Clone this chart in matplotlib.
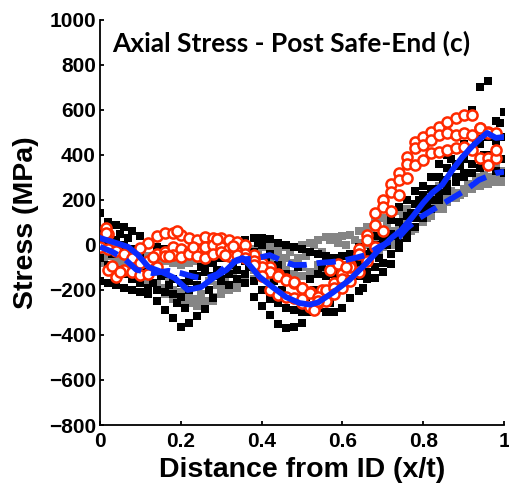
import numpy as np
import matplotlib
matplotlib.use("Agg")
import matplotlib.pyplot as plt

# position through the wall (x/t), shared by the square-marker traces
x_grid = [0.00, 0.02, 0.04, 0.06, 0.08, 0.10, 0.12, 0.14, 0.16, 0.18,
          0.20, 0.22, 0.24, 0.26, 0.28, 0.30, 0.32, 0.34, 0.36, 0.38,
          0.40, 0.42, 0.44, 0.46, 0.48, 0.50, 0.52, 0.54, 0.56, 0.58,
          0.60, 0.62, 0.64, 0.66, 0.68, 0.70, 0.72, 0.74, 0.76, 0.78,
          0.80, 0.82, 0.84, 0.86, 0.88, 0.90, 0.92, 0.94, 0.96, 0.98,
          1.00]
x_half = [0.01, 0.03, 0.05, 0.07, 0.09, 0.11, 0.13, 0.15, 0.17, 0.19,
          0.21, 0.23, 0.25, 0.27, 0.29, 0.31, 0.33, 0.35, 0.37, 0.39,
          0.41, 0.43, 0.45, 0.47, 0.49, 0.51, 0.53, 0.55, 0.57, 0.59,
          0.61, 0.63, 0.65, 0.67, 0.69, 0.71, 0.73, 0.75, 0.77, 0.79,
          0.81, 0.83, 0.85, 0.87, 0.89, 0.91, 0.93, 0.95, 0.97, 0.99]

# black squares
black_1 = [140, 100, 90, 80, 60, 40, 10, -10, -20, -30,
           -30, -40, -50, -60, -40, -20, 0, 10, 20, 30,
           30, 25, 10, 0, -10, -20, -30, -40, -50, -60,
           -50, -40, -10, 30, 40, 60, 110, 170, 200, 240,
           260, 300, 360, 400, 420, 450, 600, 700, 730, 550,
           590]
black_2 = [60, 30, 20, 0, -20, -40, -80, -110, -130, -150,
           -170, -160, -140, -90, -80, -60, -40, -50, -70, -30,
           0, -40, -90, -130, -160, -190, -150, -130, -140, -130,
           -120, -100, -80, -40, 0, 20, 50, 100, 130, 180,
           220, 250, 300, 340, 360, 380, 420, 450, 480, 460,
           480]
black_3 = [-60, -90, -110, -130, -150, -170, -190, -200, -210, -220,
           -230, -200, -180, -120, -140, -150, -130, -110, -130, -160,
           -200, -240, -260, -280, -290, -300, -290, -280, -230, -200,
           -180, -160, -140, -120, -100, -80, -40, 10, 60, 120,
           160, 200, 230, 270, 300, 320, 360, 380, 400, 420,
           380]
black_4 = [-160, -170, -180, -190, -200, -210, -220, -250, -290, -325,
           -365, -345, -315, -285, -236, -160, -180, -150, -170, -230,
           -270, -310, -350, -370, -365, -345, -300, -280, -300, -300,
           -280, -235, -205, -150, -145, -120, -85, -15, 30, 80,
           120, 160, 200, 240, 280, 300, 320, 340, 360, 330,
           320]
black_5 = [0, -40, 50, 30, -60, -120, -170, -140, -180, -260,
           -280, -130, -100, -200, -110, -60, -90, -30, -100, 10,
           -60, -160, -200, -240, -100, -230, -200, -100, -260, -160,
           -150, -60, -190, -30, -60, 0, 40, 80, 140, 200,
           180, 250, 290, 380, 350, 420, 470, 400, 500, 540]

# grey squares
grey_1 = [20, 0, -10, -20, -30, -40, -50, -60, -70, -80,
          -90, -80, -70, -60, -50, -50, -40, -60, -40, -20,
          -10, -10, -20, -10, -10, 0, 10, 20, 35, 35,
          40, 45, 60, 80, 100, 120, 140, 150, 160, 180,
          200, 230, 260, 280, 300, 310, 320, 340, 350, 340,
          330]
grey_2 = [-30, -50, -60, -80, -100, -130, -150, -170, -190, -200,
          -210, -230, -240, -250, -230, -190, -180, -160, -150, -110,
          -80, -60, -50, -60, -80, -100, -120, -90, -70, -60,
          -50, -40, -20, 0, 20, 40, 60, 80, 100, 130,
          150, 170, 190, 210, 230, 250, 260, 270, 280, 290,
          280]
grey_3 = [-80, -100, -120, -130, -150, -160, -180, -190, -220, -240,
          -250, -260, -270, -275, -250, -220, -200, -190, -170, -150,
          -130, -110, -100, -110, -130, -140, -130, -120, -110, -100,
          -90, -80, -60, -40, -20, -10, 10, 20, 40, 70,
          100, 130, 160, 190, 210, 230, 250, 260, 270, 280,
          290]
grey_4 = [-60, -20, -90, -110, -70, -140, -120, -200, -150, -230,
          -180, -240, -220, -160, -180, -150, -120, -170, -60, -40,
          -150, -30, -80, -30, -60, -50, 0, -30, 20, 10,
          0, 20, 10, 60, -30, 90, 0, 120, 60, 140,
          120, 180, 160, 240, 220, 270, 300, 310, 300, 300]

# red open circles
red1_x = [0.015, 0.02, 0.12, 0.14, 0.16, 0.18, 0.20, 0.22, 0.24, 0.26,
          0.28, 0.30, 0.32, 0.34, 0.36, 0.38, 0.40, 0.42, 0.44, 0.46,
          0.48, 0.50, 0.52, 0.55, 0.58, 0.60, 0.62, 0.64, 0.66, 0.68,
          0.70, 0.72, 0.74, 0.76, 0.78, 0.80, 0.82, 0.84, 0.86, 0.88,
          0.90, 0.92, 0.94, 0.96]
red1_y = [75, 50, 10, 40, 55, 55, 45, 30, 20, 35,
          30, 30, 20, 15, 0, -45, -80, -100, -130, -150,
          -170, -190, -210, -200, -170, -130, -90, -20, 45, 140,
          200, 270, 320, 390, 458, 480, 502, 524, 547, 564,
          578, 578, 520, 500]
red2_x = x_grid[:50]
red2_y = [-10, -20, -25, -40, -60, -80, -70, -40, -30, -10,
          -20, -30, -20, -10, 0, -10, -20, -30, -40, -70,
          -100, -120, -140, -156, -164, -190, -215, -230, -200, -190,
          -150, -100, -40, 20, 90, 170, 236, 290, 360, 431,
          444, 467, 489, 498, 489, 498, 489, 520, 498, 498]
red3_x = x_grid[1:50]
red3_y = [-111, -141, -110, -120, -135, -130, -100, -50, -45, -55,
          -40, -50, -60, -40, -30, -50, -45, -60, -90, -140,
          -200, -222, -231, -236, -258, -275, -260, -250, -220, -190,
          -160, -120, -70, -10, 60, 150, 222, 298, 356, 378,
          409, 413, 422, 431, 436, 420, 387, 387, 387]
red4_x = [0.015, 0.03, 0.05, 0.10, 0.13, 0.17, 0.19, 0.23, 0.29, 0.31,
          0.33, 0.50, 0.53, 0.54, 0.57, 0.59, 0.61, 0.98, 0.96]
red4_y = [53, -95, -120, -15, -55, -50, 60, -10, 25, -45,
          -5, -240, -290, -250, -110, -85, -100, 422, 355]

# blue fitted curves
solid_x = [0, 0.04, 0.07, 0.094, 0.12, 0.153, 0.185, 0.217, 0.25, 0.28,
           0.313, 0.338, 0.353, 0.37, 0.395, 0.427, 0.46, 0.494, 0.52, 0.54,
           0.575, 0.617, 0.66, 0.69, 0.724, 0.745, 0.773, 0.80, 0.822, 0.847,
           0.872, 0.897, 0.92, 0.946, 0.958, 0.98, 1.0]
solid_y = [31, 9, -9, -44, -98, -120, -147, -200, -187, -147,
           -111, -67, -58, -89, -142, -187, -231, -258, -265, -255,
           -213, -156, -80, -22, 35, 65, 124, 187, 231, 267,
           333, 391, 436, 480, 498, 476, 480]
dash_x = [0, 0.03, 0.06, 0.09, 0.13, 0.17, 0.2, 0.23, 0.26, 0.29,
          0.32, 0.35, 0.39, 0.42, 0.45, 0.48, 0.51, 0.54, 0.57, 0.6,
          0.63, 0.66, 0.69, 0.716, 0.74, 0.76, 0.79, 0.822, 0.864, 0.905,
          0.938, 0.98, 1.0]
dash_y = [-8, -30, -60, -110, -125, -115, -125, -140, -150, -130,
          -80, -65, -58, -45, -70, -89, -88, -80, -76, -70,
          -58, -44, -9, 13, 35, 75, 120, 155, 200, 244,
          289, 320, 325]

x_ticks = [0, 0.2, 0.4, 0.6, 0.8, 1]
x_ticklabels = ["0", "0.2", "0.4", "0.6", "0.8", "1"]
y_ticks = [-800, -600, -400, -200, 0, 200, 400, 600, 800, 1000]

plt.rcParams['font.family'] = ['Liberation Sans', 'DejaVu Sans']

fig = plt.figure(figsize=(5.09, 4.84), dpi=100)
ax = fig.add_axes([0.1965, 0.1219, 0.7937, 0.8368])

grey_sets = [(x_grid, grey_1), (x_grid, grey_2), (x_grid, grey_3), (x_half, grey_4)]
for gx, gy in grey_sets:
    ax.plot(gx, gy, ls="none", marker="s", ms=5.8, mew=0, color="#858585", zorder=2)
black_sets = [(x_grid, black_1), (x_grid, black_2), (x_grid, black_3),
              (x_grid, black_4), (x_half, black_5)]
for bx, by in black_sets:
    ax.plot(bx, by, ls="none", marker="s", ms=5.8, mew=0, color="black", zorder=3)
for rx, ry in ((red1_x, red1_y), (red2_x, red2_y), (red3_x, red3_y), (red4_x, red4_y)):
    ax.plot(rx, ry, ls="none", marker="o", ms=7.3, mew=1.8, mec="#ff2a00", mfc="white", zorder=4)

ax.plot(solid_x, solid_y, color="#0a2cff", lw=4.2, zorder=5)
ax.plot(dash_x, dash_y, color="#0a2cff", lw=4.2, ls=(0, (3.3, 1.7)), zorder=5)

ax.set_xlim(0, 1)
ax.set_ylim(-800, 1000)
ax.set_xticks(x_ticks)
ax.set_xticklabels(x_ticklabels)
ax.set_yticks(y_ticks)
ax.spines["top"].set_visible(False)
ax.spines["right"].set_visible(False)
ax.spines["left"].set_linewidth(1.3)
ax.spines["bottom"].set_linewidth(1.3)
ax.tick_params(direction="in", length=3, width=1.3, labelsize=15, pad=3)
ax.tick_params(axis="x", pad=5)
for lab in ax.get_xticklabels() + ax.get_yticklabels():
    lab.set_fontweight("bold")

ax.set_xlabel("Distance from ID (x/t)", fontsize=20.5, fontweight="bold", labelpad=4)
ax.set_ylabel("Stress (MPa)", fontsize=20.5, fontweight="bold", labelpad=7)
ax.text(0.03, 0.943, "Axial Stress - Post Safe-End (c)", transform=ax.transAxes,
        fontsize=19, fontweight="bold", family=["Lato", "DejaVu Sans"], va="center", ha="left")

fig.savefig("out.png", dpi=100)
